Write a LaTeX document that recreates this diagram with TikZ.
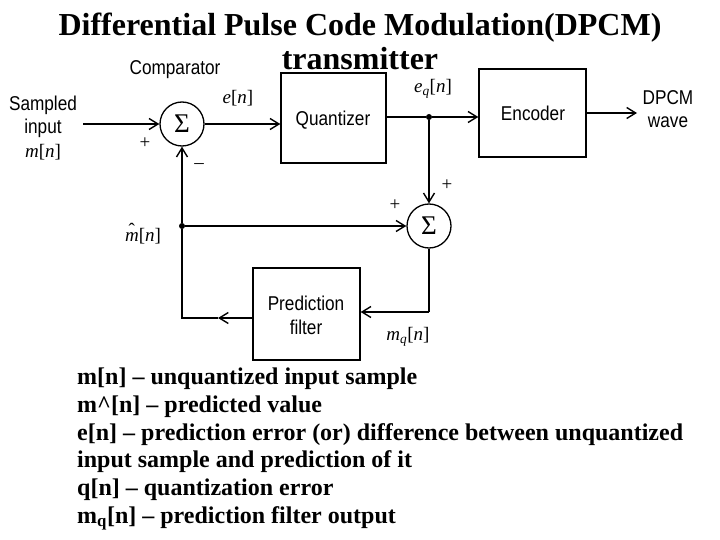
\documentclass[tikz,border=0pt]{standalone}
\usepackage{fontspec}
\setmainfont{Liberation Serif}
\newfontfamily\labelfont[FakeStretch=0.86]{Liberation Sans}
\newfontfamily\mathlabfont{Liberation Serif}
\usetikzlibrary{arrows.meta}
\newcommand{\vi}[1]{\textit{#1}}
\begin{document}
\begin{tikzpicture}[x=1pt,y=-1pt,
  line/.style={line width=1.8pt},
  arr/.style={line width=1.8pt,-{Straight Barb[length=9pt,width=11pt,line width=1.4pt]}},
  blockbox/.style={draw,line width=1.3pt,minimum width=#1,inner sep=0pt},
  sumnode/.style={draw,circle,line width=1.3pt,minimum size=44pt,inner sep=0pt,font=\mathlabfont\fontsize{27}{29}\selectfont},
  sans/.style={font=\labelfont\fontsize{20}{22}\selectfont,inner sep=0pt},
  mlab/.style={font=\mathlabfont\fontsize{19}{21}\selectfont,inner sep=0pt},
  dot/.style={circle,fill,inner sep=0pt,minimum size=6pt},
  legend/.style={font=\bfseries\fontsize{24}{28}\selectfont,anchor=base west,inner sep=0pt},
  ttl/.style={font=\bfseries\fontsize{32}{36}\selectfont,inner sep=0pt,anchor=base}]
\useasboundingbox (0,0) rectangle (720,540);
% title
\node[ttl] (title) at (360,36) {Differential Pulse Code Modulation(DPCM)};
\node[ttl] (title2) at (360,70) {transmitter};
% blocks
\node[blockbox=105pt,minimum height=90pt] (q) at (333.5,118) {};
\node[sans] (qlab) at (333,120) {Quantizer};
\node[blockbox=107pt,minimum height=88pt] (enc) at (532.5,113) {};
\node[sans] (enclab) at (533,113) {Encoder};
\node[blockbox=107pt,minimum height=92pt] (f) at (306.5,314) {};
\node[sans] (flab1) at (306,303) {Prediction};
\node[sans] (flab2) at (306,327) {filter};
\node[sumnode] (s1) at (182,124) {Σ};
\node[sumnode] (s2) at (429,226) {Σ};
% coordinates
\coordinate (in) at (83,124);
\node[dot] (j1) at (429,117) {};
\node[dot] (j2) at (182,226) {};
\coordinate (out) at (637,113);
\coordinate (c2) at (429,312);
\coordinate (c1) at (182,318);
\coordinate (mid) at (218,318);
% connectors
\draw[arr] (in) -- (s1.west);
\draw[arr] (s1.east) -- (s1.east -| q.west);
\draw[line] (q.east |- j1) -- (j1);
\draw[arr] (j1) -- (j1 -| enc.west);
\draw[arr] (enc.east |- out) -- (out);
\draw[arr] (j1) -- (s2.north);
\draw[line] (s2.south) -- (c2);
\draw[arr] (c2) -- (c2 -| f.east);
\draw[arr] (c1 -| f.west) -- (mid);
\draw[line] (mid) -- (c1) -- (j2);
\draw[arr] (j2) -- (s1.south);
\draw[arr] (j2) -- (s2.west);
% labels
\node[sans] (comp) at (175,70) {Comparator};
\node[sans] (samp1) at (43,105) {Sampled};
\node[sans] (samp2) at (43,128) {input};
\node[mlab] (samp3) at (43,152) {\vi{m}[\vi{n}]};
\node[mlab] (p1) at (145,143) {+};
\node[mlab] (m1) at (199,166) {\textendash};
\node[mlab] (en) at (238,98) {\vi{e}[\vi{n}]};
\node[mlab] (eq) at (433,89) {\vi{e}\textsubscript{\vi{q}}[\vi{n}]};
\node[sans] (dp1) at (668,98) {DPCM};
\node[sans] (dp2) at (668,122) {wave};
\node[mlab] (p2) at (447,185) {+};
\node[mlab] (p3) at (395,205) {+};
\node[mlab] (mh) at (143,234) {\makebox[0pt][l]{\hspace{3.5pt}\raisebox{5pt}{ˆ}}\vi{m}[\vi{n}]};
\node[mlab] (mq) at (408,337) {\vi{m}\textsubscript{\vi{q}}[\vi{n}]};
% legend
\node[legend] (l1) at (77,384) {m[n] -- unquantized input sample};
\node[legend] (l2) at (77,412) {m\textasciicircum[n] -- predicted value};
\node[legend] (l3) at (77,440) {e[n] -- prediction error (or) difference between unquantized};
\node[legend] (l4) at (77,467) {input sample and prediction of it};
\node[legend] (l5) at (77,495) {q[n] -- quantization error};
\node[legend] (l6) at (77,523) {m\textsubscript{q}[n] -- prediction filter output};
\end{tikzpicture}
\end{document}
